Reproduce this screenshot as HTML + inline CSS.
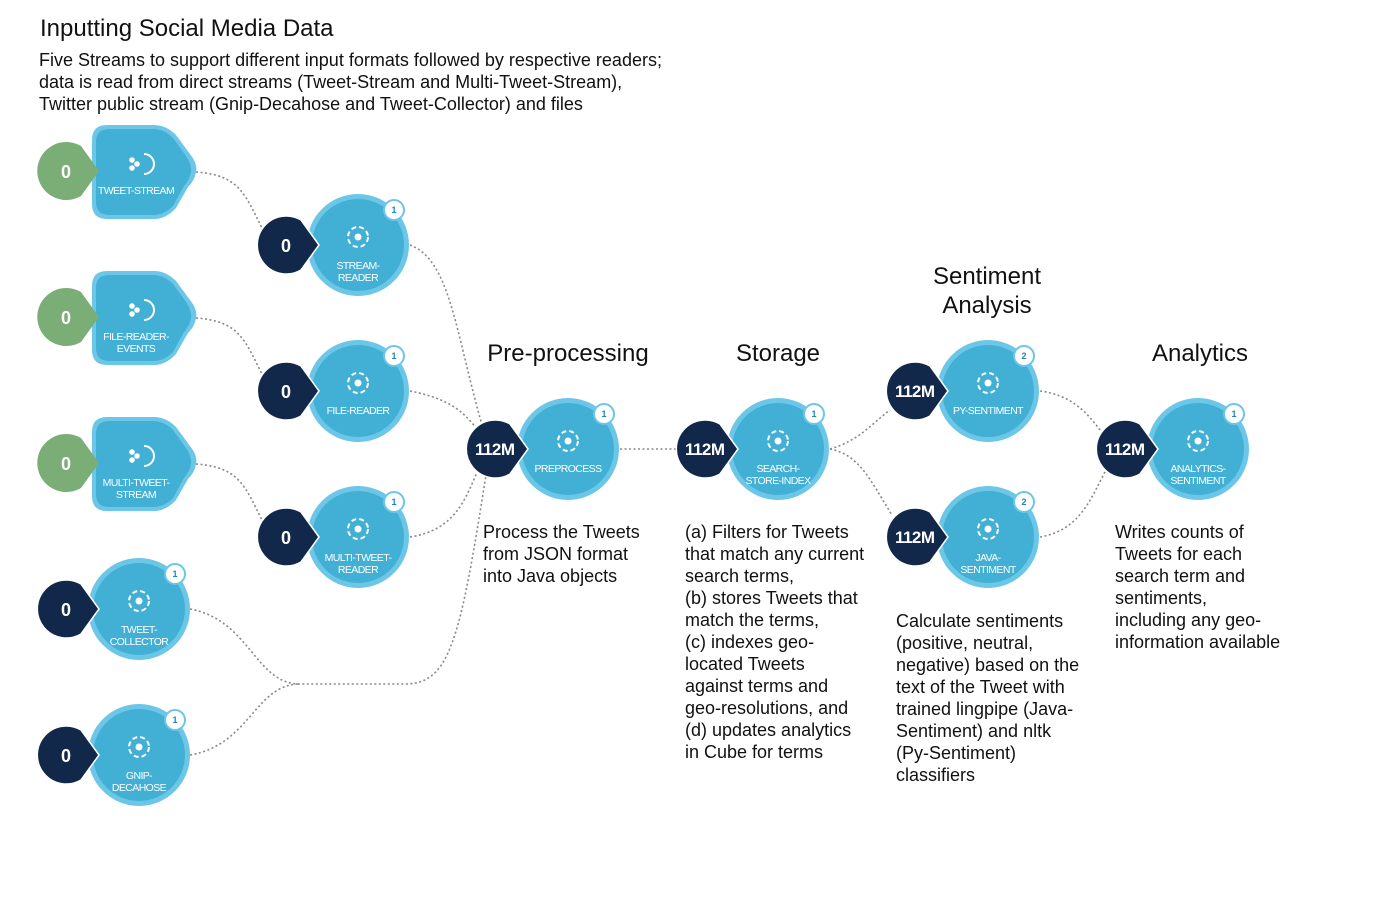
<!DOCTYPE html>
<html><head><meta charset="utf-8"><style>
html,body{margin:0;padding:0;background:#fff;width:1373px;height:898px;overflow:hidden}
.t{position:absolute;font-family:"Liberation Sans",Arial,sans-serif;color:#111;font-size:18px;line-height:22px;white-space:nowrap}
.h{position:absolute;font-family:"Liberation Sans",Arial,sans-serif;color:#111;font-size:24px;line-height:29px;text-align:center;white-space:nowrap}
svg{position:absolute;left:0;top:0}
.lbl{font-family:"Liberation Sans Narrow","Liberation Sans",sans-serif;font-size:10.5px;letter-spacing:-0.6px;fill:#fff;text-anchor:middle}
.cnt{font-family:"Liberation Sans",sans-serif;font-weight:bold;fill:#fff;text-anchor:middle}
.bd{font-family:"Liberation Sans",sans-serif;font-weight:bold;font-size:9px;fill:#1f86b7;text-anchor:middle}
</style></head><body>
<svg width="1373" height="898" viewBox="0 0 1373 898">
<defs>
<g id="proc">
<circle r="51" fill="#6cc6e8"/><circle r="46" fill="#42afd4"/>
<circle cx="0" cy="-8" r="10" fill="none" stroke="#fff" stroke-width="2" stroke-dasharray="5 3"/>
<circle cx="0" cy="-8" r="3.5" fill="#fff"/>
</g>
<g id="badge"><circle r="10" fill="#fff" stroke="#6cc6e8" stroke-width="2"/></g>
<path id="drop" d="M33,0 L15,-25 A29,29 0 1 0 15,25 Z"/>
<g id="src">
<path d="M-48,-32 Q-48,-47 -33,-47 L14,-47 Q26,-47 36,-37 L50,-18 Q58,-8 56,0 Q55,8 48,15 L36,36 Q26,47 14,47 L-33,47 Q-48,47 -48,32 Z" fill="#6cc6e8"/>
<path d="M-44,-30 Q-44,-43 -31,-43 L13,-43 Q24,-43 33,-34 L46,-16 Q52,-7 51,0 Q50,7 44,14 L33,34 Q24,43 13,43 L-31,43 Q-44,43 -44,30 Z" fill="#42afd4"/>
<circle cx="-8" cy="-12" r="2.8" fill="#fff"/><circle cx="-3" cy="-8" r="2.8" fill="#fff"/><circle cx="-8" cy="-4" r="2.8" fill="#fff"/>
<path d="M4,-18 A10,10 0 0 1 4,2" fill="none" stroke="#fff" stroke-width="2"/>
</g>
</defs>
<g fill="none" stroke="#888" stroke-width="1.6" stroke-dasharray="2 2.5">
<path d="M196,172 C240,175 245,195 262,228"/>
<path d="M196,318 C240,321 245,341 262,374"/>
<path d="M196,464 C240,467 245,487 262,520"/>
<path d="M410,245 C450,260 455,330 482,425"/>
<path d="M410,391 C455,400 465,415 478,430"/>
<path d="M410,537 C455,530 465,500 478,470"/>
<path d="M190,609 C250,620 255,684 300,684 L405,684 C450,684 460,640 486,475"/>
<path d="M190,755 C250,745 255,684 300,684"/>
<path d="M620,449 L677,449"/>
<path d="M830,449 C860,440 870,425 890,410"/>
<path d="M830,449 C860,455 870,480 892,515"/>
<path d="M1040,391 C1070,395 1085,410 1100,430"/>
<path d="M1040,537 C1080,530 1090,500 1106,470"/>
</g>
<use href="#src" x="140" y="172"/><use href="#src" x="140" y="318"/><use href="#src" x="140" y="464"/>
<g fill="#7bae77"><use href="#drop" x="66" y="171"/><use href="#drop" x="66" y="317"/><use href="#drop" x="66" y="463"/></g>
<text class="cnt" font-size="18" x="66" y="178">0</text><text class="cnt" font-size="18" x="66" y="324">0</text><text class="cnt" font-size="18" x="66" y="470">0</text>
<g class="lbl">
<text x="136" y="194">TWEET-STREAM</text>
<text x="136" y="340">FILE-READER-</text><text x="136" y="352">EVENTS</text>
<text x="136" y="486">MULTI-TWEET-</text><text x="136" y="498">STREAM</text>
</g>
<use href="#proc" x="358" y="245"/><use href="#proc" x="358" y="391"/><use href="#proc" x="358" y="537"/>
<use href="#proc" x="139" y="609"/><use href="#proc" x="139" y="755"/>
<use href="#proc" x="568" y="449"/><use href="#proc" x="778" y="449"/>
<use href="#proc" x="988" y="391"/><use href="#proc" x="988" y="537"/><use href="#proc" x="1198" y="449"/>
<g>
<use href="#badge" x="394" y="210"/><use href="#badge" x="394" y="356"/><use href="#badge" x="394" y="502"/>
<use href="#badge" x="175" y="574"/><use href="#badge" x="175" y="720"/>
<use href="#badge" x="604" y="414"/><use href="#badge" x="814" y="414"/>
<use href="#badge" x="1024" y="356"/><use href="#badge" x="1024" y="502"/><use href="#badge" x="1234" y="414"/>
</g>
<text class="bd" x="394" y="213">1</text><text class="bd" x="394" y="359">1</text><text class="bd" x="394" y="505">1</text>
<text class="bd" x="175" y="577">1</text><text class="bd" x="175" y="723">1</text>
<text class="bd" x="604" y="417">1</text><text class="bd" x="814" y="417">1</text>
<text class="bd" x="1024" y="359">2</text><text class="bd" x="1024" y="505">2</text><text class="bd" x="1234" y="417">1</text>
<g fill="#12284a" stroke="#fff" stroke-width="1.5">
<use href="#drop" x="286" y="245"/><use href="#drop" x="286" y="391"/><use href="#drop" x="286" y="537"/>
<use href="#drop" x="66" y="609"/><use href="#drop" x="66" y="755"/>
<use href="#drop" x="495" y="449"/><use href="#drop" x="705" y="449"/>
<use href="#drop" x="915" y="391"/><use href="#drop" x="915" y="537"/><use href="#drop" x="1125" y="449"/>
</g>
<g class="cnt" font-size="18">
<text x="286" y="252">0</text><text x="286" y="398">0</text><text x="286" y="544">0</text>
<text x="66" y="616">0</text><text x="66" y="762">0</text>
</g>
<g class="cnt" font-size="17">
<text x="495" y="455" textLength="40">112M</text><text x="705" y="455" textLength="40">112M</text>
<text x="915" y="397" textLength="40">112M</text><text x="915" y="543" textLength="40">112M</text><text x="1125" y="455" textLength="40">112M</text>
</g>
<g class="lbl">
<text x="358" y="269">STREAM-</text><text x="358" y="281">READER</text>
<text x="358" y="414">FILE-READER</text>
<text x="358" y="561">MULTI-TWEET-</text><text x="358" y="573">READER</text>
<text x="139" y="633">TWEET-</text><text x="139" y="645">COLLECTOR</text>
<text x="139" y="779">GNIP-</text><text x="139" y="791">DECAHOSE</text>
<text x="568" y="472">PREPROCESS</text>
<text x="778" y="472">SEARCH-</text><text x="778" y="484">STORE-INDEX</text>
<text x="988" y="414">PY-SENTIMENT</text>
<text x="988" y="561">JAVA-</text><text x="988" y="573">SENTIMENT</text>
<text x="1198" y="472">ANALYTICS-</text><text x="1198" y="484">SENTIMENT</text>
</g>
</svg>
<div class="t" style="left:40px;top:14px;font-size:24px;line-height:29px">Inputting Social Media Data</div>
<div class="t" style="left:39px;top:49px">Five Streams to support different input formats followed by respective readers;<br>data is read from direct streams (Tweet-Stream and Multi-Tweet-Stream),<br>Twitter public stream (Gnip-Decahose and Tweet-Collector) and files</div>
<div class="h" style="left:468px;top:339px;width:200px">Pre-processing</div>
<div class="h" style="left:678px;top:339px;width:200px">Storage</div>
<div class="h" style="left:887px;top:262px;width:200px">Sentiment<br>Analysis</div>
<div class="h" style="left:1100px;top:339px;width:200px">Analytics</div>
<div class="t" style="left:483px;top:521px">Process the Tweets<br>from JSON format<br>into Java objects</div>
<div class="t" style="left:685px;top:521px">(a) Filters for Tweets<br>that match any current<br>search terms,<br>(b) stores Tweets that<br>match the terms,<br>(c) indexes geo-<br>located Tweets<br>against terms and<br>geo-resolutions, and<br>(d) updates analytics<br>in Cube for terms</div>
<div class="t" style="left:896px;top:610px">Calculate sentiments<br>(positive, neutral,<br>negative) based on the<br>text of the Tweet with<br>trained lingpipe (Java-<br>Sentiment) and nltk<br>(Py-Sentiment)<br>classifiers</div>
<div class="t" style="left:1115px;top:521px">Writes counts of<br>Tweets for each<br>search term and<br>sentiments,<br>including any geo-<br>information available</div>
</body></html>
